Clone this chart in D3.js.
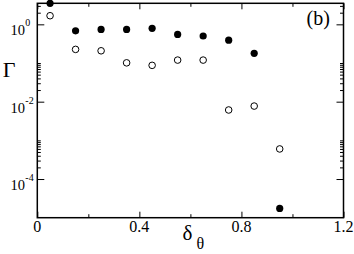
<!DOCTYPE html>
<html>
<head>
<meta charset="utf-8">
<script src="https://cdn.jsdelivr.net/npm/d3@7"></script>
<style>
body { margin: 0; background: #fff; }
text { font-family: "Liberation Serif", "Times New Roman", serif; fill: #000; }
</style>
</head>
<body>
<svg id="chart" width="354" height="254"></svg>
<script>
// values
var deltas = [0.05, 0.15, 0.25, 0.35, 0.45, 0.55, 0.65, 0.75, 0.85, 0.95];
var filledVals = [3.5, 0.68, 0.74, 0.74, 0.79, 0.55, 0.50, 0.39, 0.178, 1.74e-5];
var openVals = [1.67, 0.225, 0.207, 0.101, 0.087, 0.119, 0.119, 0.0061, 0.0077, 6.0e-4];

var xTicks = [0, 0.4, 0.8, 1.2];
var xMinor = [0.2, 0.6, 1.0];
var yTicks = [1, 1e-2, 1e-4];
var yExps = ["0", "-2", "-4"];

var svg = d3.select("#chart");

// note: "top" is taken by window.top, so use plot* names
var plotLeft = 37.3, plotRight = 343.5, plotTop = 3.3, plotBottom = 217.7;

var x = d3.scaleLinear().domain([0, 1.2]).range([plotLeft, plotRight]);
var y = d3.scaleLog().domain([1e-5, 3.5]).range([plotBottom, plotTop]);

// grace style minor ticks: 2..10 times each major
var yMinor = [];
yTicks.forEach(function(m) {
  for (var k = 2; k <= 10; k++) {
    var v = m * k;
    if (v <= 3.5) yMinor.push(v);
  }
});

function noDomain(g) {
  g.select(".domain").remove();
  g.selectAll(".tick line").attr("stroke", "#000").attr("stroke-width", 1);
}

// ticks, all pointing inward
svg.append("g").attr("transform", "translate(0," + plotBottom + ")")
  .call(d3.axisBottom(x).tickValues(xTicks).tickSize(-6).tickFormat("")).call(noDomain);
svg.append("g").attr("transform", "translate(0," + plotBottom + ")")
  .call(d3.axisBottom(x).tickValues(xMinor).tickSize(-3.5).tickFormat("")).call(noDomain);
svg.append("g").attr("transform", "translate(0," + plotTop + ")")
  .call(d3.axisTop(x).tickValues(xTicks).tickSize(-6).tickFormat("")).call(noDomain);
svg.append("g").attr("transform", "translate(0," + plotTop + ")")
  .call(d3.axisTop(x).tickValues(xMinor).tickSize(-3.5).tickFormat("")).call(noDomain);

svg.append("g").attr("transform", "translate(" + plotLeft + ",0)")
  .call(d3.axisLeft(y).tickValues(yTicks).tickSize(-7).tickFormat("")).call(noDomain);
svg.append("g").attr("transform", "translate(" + plotLeft + ",0)")
  .call(d3.axisLeft(y).tickValues(yMinor).tickSize(-3.5).tickFormat("")).call(noDomain);
svg.append("g").attr("transform", "translate(" + plotRight + ",0)")
  .call(d3.axisRight(y).tickValues(yTicks).tickSize(-7).tickFormat("")).call(noDomain);
svg.append("g").attr("transform", "translate(" + plotRight + ",0)")
  .call(d3.axisRight(y).tickValues(yMinor).tickSize(-3.5).tickFormat("")).call(noDomain);

// frame
svg.append("rect")
  .attr("x", plotLeft).attr("y", plotTop)
  .attr("width", plotRight - plotLeft).attr("height", plotBottom - plotTop)
  .attr("fill", "none").attr("stroke", "#000").attr("stroke-width", 1.5);

// tick labels
svg.selectAll(".xlab").data(xTicks).enter().append("text")
  .attr("class", "xlab")
  .attr("x", function(d) { return x(d); })
  .attr("y", 231.7)
  .attr("text-anchor", "middle")
  .attr("font-size", 16)
  .text(function(d) { return String(d); });

yTicks.forEach(function(v, i) {
  svg.append("text")
    .attr("x", 25).attr("y", y(v) + 11)
    .attr("text-anchor", "end").attr("font-size", 14.5)
    .text("10");
  svg.append("text")
    .attr("x", 25.3).attr("y", y(v) + 2)
    .attr("font-size", 10)
    .text(yExps[i]);
});

// markers
svg.selectAll(".open").data(openVals).enter().append("circle")
  .attr("class", "open")
  .attr("cx", function(d, i) { return x(deltas[i]); })
  .attr("cy", function(d) { return y(d); })
  .attr("r", 3.3)
  .attr("fill", "#fff").attr("stroke", "#000").attr("stroke-width", 1);

svg.selectAll(".filled").data(filledVals).enter().append("circle")
  .attr("class", "filled")
  .attr("cx", function(d, i) { return x(deltas[i]); })
  .attr("cy", function(d) { return y(d); })
  .attr("r", 3.6)
  .attr("fill", "#000");

// axis titles
svg.append("text").attr("x", 9).attr("y", 76.7)
  .attr("text-anchor", "middle").attr("font-size", 22).text("Γ");
svg.append("text").attr("x", 182.5).attr("y", 240)
  .attr("font-size", 21).text("δ");
svg.append("text").attr("x", 196.5).attr("y", 248.5)
  .attr("font-size", 16).text("θ");

svg.append("text").attr("x", 306.5).attr("y", 24.5)
  .attr("font-size", 20).text("(b)");
</script>
</body>
</html>
